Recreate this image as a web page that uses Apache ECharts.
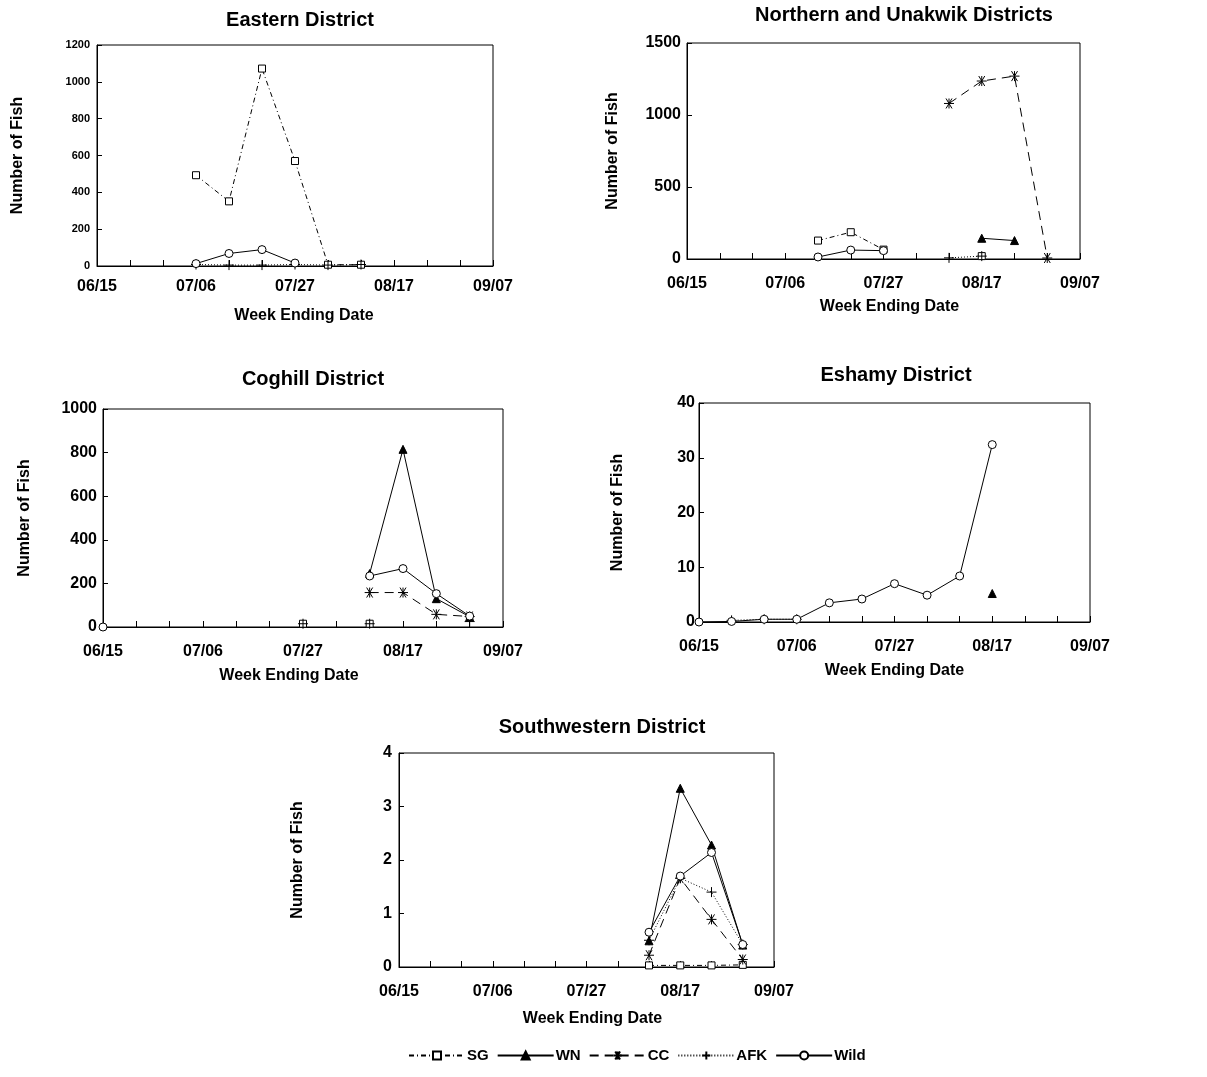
<!DOCTYPE html>
<html><head><meta charset="utf-8">
<script src="https://cdn.jsdelivr.net/npm/echarts@6/dist/echarts.min.js"></script>
<style>html,body{margin:0;padding:0;background:#fff}#c{width:1207px;height:1077px}</style>
</head><body><div id="c"></div>
<script>
const _ = null;
const weeks = ['06/15','06/22','06/29','07/06','07/13','07/20','07/27','08/03','08/10','08/17','08/24','08/31','09/07'];
const seriesNames = ['SG','WN','CC','AFK','Wild'];
const panelTitles = ['Eastern District','Northern and Unakwik Districts','Coghill District','Eshamy District','Southwestern District'];
const yMaxes = [1200, 1500, 1000, 40, 4];
const ySteps = [200, 500, 200, 10, 1];

// Eastern District
const easternSG   = [_,_,_,493,351,1072,570,7,7,_,_,_,_];
const easternWN   = [_,_,_,_,_,_,_,_,_,_,_,_,_];
const easternCC   = [_,_,_,_,_,_,_,_,_,_,_,_,_];
const easternAFK  = [_,_,_,8,5,5,8,5,8,_,_,_,_];
const easternWild = [_,_,_,13,68,89,16,_,_,_,_,_,_];
// Northern and Unakwik Districts
const northernSG   = [_,_,_,_,128,186,65,_,_,20,_,_,_];
const northernWN   = [_,_,_,_,_,_,_,_,_,144,128,_,_];
const northernCC   = [_,_,_,_,_,_,_,_,1080,1236,1270,7,_];
const northernAFK  = [_,_,_,_,_,_,_,_,8,20,_,_,_];
const northernWild = [_,_,_,_,14,62,58,_,_,_,_,_,_];
// Coghill District
const coghillSG   = [_,_,_,_,_,_,15,_,15,_,_,_,_];
const coghillWN   = [_,_,_,_,_,_,_,_,245,815,130,47,_];
const coghillCC   = [_,_,_,_,_,_,_,_,158,158,58,48,_];
const coghillAFK  = [_,_,_,_,_,_,15,_,15,_,_,25,_];
const coghillWild = [0,_,_,_,_,_,_,_,234,268,153,50,_];
// Eshamy District
const eshamySG   = [_,_,_,_,_,_,_,_,_,_,_,_,_];
const eshamyWN   = [_,_,_,_,_,_,_,_,_,5.2,_,_,_];
const eshamyCC   = [_,_,_,_,_,_,_,_,_,_,_,_,_];
const eshamyAFK  = [_,0.3,0.5,0.5,_,_,_,_,_,_,_,_,_];
const eshamyWild = [0,0.1,0.5,0.5,3.5,4.2,7.0,4.9,8.4,32.4,_,_,_];
// Southwestern District
const swSG   = [_,_,_,_,_,_,_,_,0.03,0.03,0.03,0.04,_];
const swWN   = [_,_,_,_,_,_,_,_,0.49,3.34,2.28,0.41,_];
const swCC   = [_,_,_,_,_,_,_,_,0.22,1.66,0.89,0.14,_];
const swAFK  = [_,_,_,_,_,_,_,_,0.5,1.66,1.4,0.42,_];
const swWild = [_,_,_,_,_,_,_,_,0.65,1.7,2.14,0.42,_];

const panelData = [
  [easternSG, easternWN, easternCC, easternAFK, easternWild],
  [northernSG, northernWN, northernCC, northernAFK, northernWild],
  [coghillSG, coghillWN, coghillCC, coghillAFK, coghillWild],
  [eshamySG, eshamyWN, eshamyCC, eshamyAFK, eshamyWild],
  [swSG, swWN, swCC, swAFK, swWild]
];

const FONT = "'Liberation Sans', Arial, sans-serif";
// layout of each panel
const grids = [
  {left: 97,  top: 45,  width: 396, height: 221},
  {left: 687, top: 43,  width: 393, height: 216},
  {left: 103, top: 409, width: 400, height: 218},
  {left: 699, top: 403, width: 391, height: 219},
  {left: 399, top: 753, width: 375, height: 214}
];
const titlePos = [[300, 10], [904, 5], [313, 369], [896, 365], [602, 717]];
const yNameGap = [71, 66, 70, 73, 93];
const xNameGap = [42, 40, 41, 41, 44];
const xNamePad = [[0,0,0,18],[0,0,0,12],[0,28,0,0],[0,0,0,0],[0,0,0,12]];
const xLabelMargin = [13, 17, 17, 17, 17];
const yLabelSize = [11, 16, 16, 16, 16];
const yLabelMargin = [7, 6, 6, 4, 7];

const styles = {
  SG:   {symbol: 'rect', size: 7, dash: [5,3,1,3], fill: '#fff'},
  WN:   {symbol: 'triangle', size: 8, dash: 'solid', fill: '#000'},
  CC:   {symbol: 'path://M0,5L10,5M2,0L8,10M8,0L2,10M5,0L5,10', size: 10, dash: [9,6], fill: '#000'},
  AFK:  {symbol: 'path://M0,5L10,5M5,0L5,10', size: 10, dash: [1,2], fill: '#000'},
  Wild: {symbol: 'circle', size: 8, dash: 'solid', fill: '#fff'}
};

const option = {
  backgroundColor: '#fff',
  animation: false,
  textStyle: {fontFamily: FONT, color: '#000'},
  title: panelTitles.map((t, i) => ({
    text: t, left: titlePos[i][0], top: titlePos[i][1], textAlign: 'center', padding: 0,
    textStyle: {fontFamily: FONT, fontSize: 20, fontWeight: 'bold', color: '#000'}
  })),
  grid: grids.map(g => Object.assign({show: true, borderColor: '#000', borderWidth: 1, backgroundColor: 'transparent'}, g)),
  xAxis: grids.map((g, i) => ({
    type: 'category', gridIndex: i, data: weeks, boundaryGap: false,
    name: 'Week Ending Date', nameLocation: 'middle', nameGap: xNameGap[i],
    nameTextStyle: {fontFamily: FONT, fontSize: 16, fontWeight: 'bold', color: '#000', padding: xNamePad[i]},
    axisLine: {lineStyle: {color: '#000', width: 1}},
    axisTick: {inside: true, length: 6, interval: 0, lineStyle: {color: '#000'}},
    axisLabel: {interval: 2, margin: xLabelMargin[i], fontFamily: FONT, fontSize: 16, fontWeight: 'bold', color: '#000'},
    splitLine: {show: false}
  })),
  yAxis: grids.map((g, i) => ({
    type: 'value', gridIndex: i, min: 0, max: yMaxes[i], interval: ySteps[i],
    name: 'Number of Fish', nameLocation: 'middle', nameRotate: 90, nameGap: yNameGap[i],
    nameTextStyle: {fontFamily: FONT, fontSize: 16, fontWeight: 'bold', color: '#000'},
    axisLine: {show: true, lineStyle: {color: '#000', width: 1}},
    axisTick: {show: true, inside: true, length: 5, lineStyle: {color: '#000'}},
    axisLabel: {margin: yLabelMargin[i], fontFamily: FONT, fontSize: yLabelSize[i], fontWeight: 'bold', color: '#000',
      formatter: v => String(v)},
    splitLine: {show: false}
  })),
  legend: {
    data: seriesNames, left: 408, top: 1048, itemWidth: 56, itemHeight: 10, itemGap: 8, padding: 0,
    textStyle: {fontFamily: FONT, fontSize: 15, fontWeight: 'bold', color: '#000', padding: [0,0,0,-3]}
  },
  series: []
};

panelData.forEach((arrs, p) => {
  arrs.forEach((vals, k) => {
    const name = seriesNames[k];
    const st = styles[name];
    option.series.push({
      type: 'line', name: name, xAxisIndex: p, yAxisIndex: p, data: vals,
      symbol: st.symbol, symbolSize: st.size, showSymbol: true, showAllSymbol: true,
      connectNulls: false,
      lineStyle: {color: '#000', width: 1, type: st.dash},
      itemStyle: {color: st.fill, borderColor: '#000', borderWidth: 1},
      emphasis: {disabled: true}
    });
  });
});

const chart = echarts.init(document.getElementById('c'), null, {renderer: 'canvas'});
chart.setOption(option);
</script>
</body></html>
